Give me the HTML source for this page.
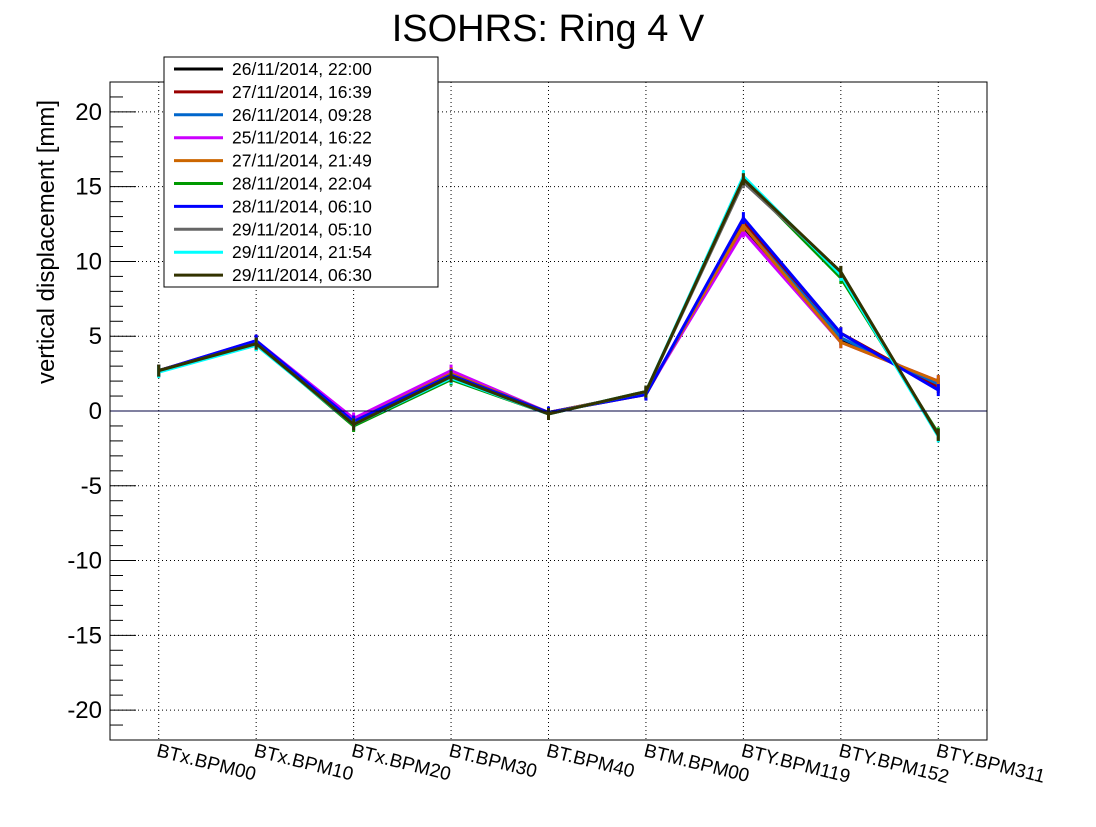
<!DOCTYPE html>
<html><head><meta charset="utf-8"><style>
body{margin:0;background:#fff}
svg text{font-family:"Liberation Sans",sans-serif}
</style></head><body>
<svg id="chart" width="1096" height="822" xmlns="http://www.w3.org/2000/svg">
<rect width="1096" height="822" fill="#fff"/>
<text x="548" y="41" font-size="38" text-anchor="middle">ISOHRS: Ring 4 V</text>
<text transform="translate(54,242) rotate(-90)" font-size="24" text-anchor="middle">vertical displacement [mm]</text>
<g id="grid"></g><g id="series"></g><g id="axes"></g><g id="legend"></g>
</svg>
<script>
const categories=["BTx.BPM00","BTx.BPM10","BTx.BPM20","BT.BPM30","BT.BPM40","BTM.BPM00","BTY.BPM119","BTY.BPM152","BTY.BPM311"];
const yTicks=[-20,-15,-10,-5,0,5,10,15,20];
const seriesNames=["26/11/2014, 22:00","27/11/2014, 16:39","26/11/2014, 09:28","25/11/2014, 16:22","27/11/2014, 21:49","28/11/2014, 22:04","28/11/2014, 06:10","29/11/2014, 05:10","29/11/2014, 21:54","29/11/2014, 06:30"];
const seriesColors=["#000000","#990000","#0066cc","#cc00ff","#cc6600","#009900","#0000ff","#666666","#00ffff","#333300"];
const s0=[2.7,4.6,-0.7,2.5,-0.1,1.2,12.3,4.8,1.8];
const s1=[2.7,4.6,-0.7,2.5,-0.1,1.1,12.6,5.2,1.6];
const s2=[2.7,4.6,-0.7,2.5,-0.1,1.2,12.4,4.9,1.8];
const s3=[2.7,4.7,-0.5,2.7,-0.1,1.2,12.0,4.6,2.0];
const s4=[2.7,4.4,-0.7,2.5,-0.1,1.2,12.4,4.6,2.0];
const s5=[2.7,4.5,-1.0,2.1,-0.2,1.3,15.5,8.9,-1.5];
const s6=[2.7,4.7,-0.7,2.4,-0.1,1.1,12.9,5.2,1.4];
const s7=[2.7,4.5,-0.9,2.2,-0.2,1.3,15.3,9.3,-1.6];
const s8=[2.6,4.4,-0.9,2.2,-0.2,1.3,15.7,9.1,-1.7];
const s9=[2.7,4.5,-0.9,2.3,-0.2,1.3,15.5,9.3,-1.6];
const seriesData=[s0,s1,s2,s3,s4,s5,s6,s7,s8,s9];
const L=110,R=987,T=82,B=740,YMIN=-22,YMAX=22;
const NS="http://www.w3.org/2000/svg";
const xPos=i=>L+(R-L)/categories.length*(i+0.5);
const yPos=v=>B-(v-YMIN)/(YMAX-YMIN)*(B-T);
function mk(tag,attrs,parent){const e=document.createElementNS(NS,tag);for(const k in attrs)e.setAttribute(k,attrs[k]);parent.appendChild(e);return e;}
const grid=document.getElementById('grid'),axes=document.getElementById('axes'),ser=document.getElementById('series'),leg=document.getElementById('legend');
categories.forEach((c,i)=>{
 const g=mk('line',{x1:xPos(i),x2:xPos(i),y1:T,y2:B,stroke:'#000','stroke-width':1,'stroke-dasharray':'1,3'},grid);
 
 
 const t=mk('text',{x:xPos(i)-3,y:756,'font-size':19,transform:`rotate(14 ${xPos(i)-3} 756)`},axes);
 t.textContent=c;
 
 
});
yTicks.forEach(v=>{
 const g=mk('line',{x1:L,x2:R,y1:yPos(v),y2:yPos(v),stroke:'#000','stroke-width':1,'stroke-dasharray':'1,3'},grid);
 
 
 mk('line',{x1:L,x2:L+26,y1:yPos(v),y2:yPos(v),stroke:'#000'},axes);
 const t=mk('text',{x:L-8,y:yPos(v)+8,'font-size':24,'text-anchor':'end'},axes);
 t.textContent=v;
 
 
});
for(let v=YMIN;v<=YMAX;v+=1){if(v%5)mk('line',{x1:L,x2:L+13,y1:yPos(v),y2:yPos(v),stroke:'#000'},axes);}
const zl=mk('line',{x1:L,x2:R,y1:yPos(0),y2:yPos(0),stroke:'#000040','stroke-width':1},axes);


const fr=mk('rect',{x:L,y:T,width:R-L,height:B-T,fill:'none',stroke:'#000','stroke-width':1},axes);


seriesData.forEach((d,k)=>{
 const p=mk('polyline',{points:d.map((v,i)=>xPos(i)+','+yPos(v)).join(' '),fill:'none',stroke:seriesColors[k],'stroke-width':3},ser);
 
 
 d.forEach((v,i)=>{
  const e=mk('line',{x1:xPos(i),x2:xPos(i),y1:yPos(v)-6,y2:yPos(v)+6,stroke:seriesColors[k],'stroke-width':3},ser);
  
  
 });
});
const lb=mk('rect',{x:164,y:57,width:274,height:230,fill:'#fff',stroke:'#000'},leg);


seriesNames.forEach((n,k)=>{
 const y=69+k*22.9;
 const l=mk('line',{x1:174,x2:223,y1:y,y2:y,stroke:seriesColors[k],'stroke-width':3},leg);
 
 
 const t=mk('text',{x:232,y:y+6,'font-size':17.5},leg);
 t.textContent=n;
 
 
});
</script>
</body></html>
